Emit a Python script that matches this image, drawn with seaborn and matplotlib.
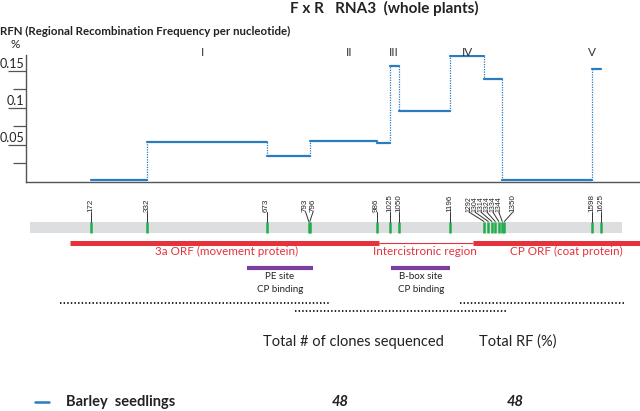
import numpy as np
import pandas as pd
import matplotlib
matplotlib.use("Agg")
import matplotlib.pyplot as plt
import seaborn as sns

# ---------------------------------------------
# Data
# ---------------------------------------------
breaks = [172, 332, 673, 796, 986, 1025, 1050, 1196, 1292, 1344, 1598, 1625]
rfn = [0.002, 0.054, 0.035, 0.055, 0.053, 0.157, 0.096, 0.170, 0.139, 0.002, 0.153]
regions = ["I", "II", "III", "IV", "V"]
region_nt = [490, 907, 1036, 1246, 1600]

sites = [172, 332, 673, 793, 796, 986, 1025, 1050, 1196,
         1292, 1304, 1314, 1324, 1334, 1344, 1350, 1598, 1625]
# where the rotated label sits (spread out in crowded places)
site_label_nt = [172, 332, 673, 784, 805, 986, 1025, 1050, 1196,
                 1249, 1266, 1283, 1300, 1317, 1334, 1374, 1598, 1625]

genome_len = 1685
orf_3a = (113, 993)
orf_cp = (1260, 1800)
pe_site = (617, 805)
bbox_site = (1027, 1195)
dotted_rows = [(85, 851, 303), (754, 1354, 311), (1223, 1690, 303)]

series_name = "Barley  seedlings"
n_clones = 48
total_rf = 48

blue = "#2b7bbf"
red = "#e5323b"
green = "#1fae4b"
purple = "#7a3e9d"

sns.set_style("ticks")
plt.rcParams["font.family"] = ["Lato", "DejaVu Sans"]

W, H = 640, 411
fig = plt.figure(figsize=(6.4, 4.11), dpi=100)


def fx(px):
    return px / W


def fy(py):
    return 1 - py / H


xlim = (-12, 1736)

# ---------------------------------------------
# Step chart
# ---------------------------------------------
ax = fig.add_axes([fx(26), fy(181.7), fx(614), (181.7 - 55) / H])
rows = []
for i, v in enumerate(rfn):
    rows.append({"seg": i, "nt": breaks[i], "rfn": v})
    rows.append({"seg": i, "nt": breaks[i + 1], "rfn": v})
df = pd.DataFrame(rows)
sns.lineplot(data=df, x="nt", y="rfn", units="seg", estimator=None,
             color=blue, lw=1.6, ax=ax, legend=False)
ax.vlines(breaks[1:-1], rfn[:-1], rfn[1:], colors=blue, lw=0.9,
          linestyles=(0, (1, 1)))

ax.set_xlim(*xlim)
ax.set_ylim(0, 0.1717)
ax.set_xlabel("")
ax.set_ylabel("")
ax.set_xticks([])
sns.despine(ax=ax)
for s in ["left", "bottom"]:
    ax.spines[s].set_color("#555555")
    ax.spines[s].set_linewidth(1.0)
ax.set_yticks([0.05, 0.10, 0.15])
ax.set_yticks([0.025, 0.075, 0.125], minor=True)
ax.tick_params(axis="y", which="major", length=13, width=0.9, color="#555555",
               labelleft=False)
ax.tick_params(axis="y", which="minor", length=9.5, width=0.9, color="#555555")
for v, lab in zip([0.05, 0.10, 0.15], ["0.05", "0.1", "0.15"]):
    ax.text(-0.003, v + 0.001, lab, transform=ax.get_yaxis_transform(),
            ha="right", va="bottom", fontsize=9, color="#222222")

for lab, nt in zip(regions, region_nt):
    ax.text(nt, 0.175, lab, ha="center", va="center", fontsize=8.5,
            color="#333333", clip_on=False)

fig.text(fx(384), fy(8), "F x R   RNA3  (whole plants)", ha="center",
         va="center", fontsize=11, fontweight="bold", color="#222222")
fig.text(fx(0), fy(31), "RFN (Regional Recombination Frequency per nucleotide)",
         ha="left", va="center", fontsize=8.3, fontweight="bold", color="#222222")
fig.text(fx(15), fy(45), "%", ha="center", va="center", fontsize=8.5,
         color="#222222")

# ---------------------------------------------
# Genome map
# ---------------------------------------------
gx = fig.add_axes([fx(26), 0, fx(614), (H - 185) / H])
gx.set_xlim(*xlim)
gx.set_ylim(H, 185)
gx.axis("off")

gx.fill_between([0, genome_len], 221.5, 232.5, color="#dcdedf", lw=0)
gx.vlines(sites, 222, 232.5, colors=green, lw=1.8)
for nt, lnt in zip(sites, site_label_nt):
    crowded = 1290 <= nt <= 1344
    gx.plot([lnt, nt], [212, 221.5], color="#333333", lw=0.7)
    gx.text(lnt, 211.5, str(nt), rotation=90, ha="center", va="bottom",
            fontsize=5.0 if crowded else 5.8, family="Liberation Sans",
            color="#222222")

gx.hlines(243, *orf_3a, colors=red, lw=3.6)
gx.hlines(242.5, orf_3a[1], orf_cp[0], colors=red, lw=0.8)
gx.hlines(243, *orf_cp, colors=red, lw=3.6)
gx.text(560, 251.5, "3a ORF (movement protein)", ha="center", va="center",
        fontsize=8.4, color=red)
gx.text(1124, 251.5, "Intercistronic region", ha="center", va="center",
        fontsize=8.4, color=red)
gx.text(1525, 251.5, "CP ORF (coat protein)", ha="center", va="center",
        fontsize=8.4, color=red)

gx.hlines(268, *pe_site, colors=purple, lw=3)
gx.hlines(268, *bbox_site, colors=purple, lw=3)
gx.text(711, 276.5, "PE site", ha="center", va="center", fontsize=7,
        color="#222222")
gx.text(711, 289, "CP binding", ha="center", va="center", fontsize=7,
        color="#222222")
gx.text(1112, 276.5, "B-box site", ha="center", va="center", fontsize=7,
        color="#222222")
gx.text(1112, 289, "CP binding", ha="center", va="center", fontsize=7,
        color="#222222")

for x0, x1, yy in dotted_rows:
    gx.hlines(yy, x0, x1, colors="#111111", lw=1.3, linestyles=(0, (0.8, 1.2)))

# ---------------------------------------------
# Table underneath
# ---------------------------------------------
fig.text(fx(353), fy(342), "Total # of clones sequenced", ha="center",
         va="center", fontsize=10.5, color="#222222")
fig.text(fx(518), fy(342), "Total RF (%)", ha="center", va="center",
         fontsize=10.5, color="#222222")
fig.lines.append(plt.Line2D([fx(35), fx(49)], [fy(402), fy(402)], color=blue,
                            lw=1.8, transform=fig.transFigure))
fig.text(fx(66), fy(402), series_name, ha="left", va="center", fontsize=10.5,
         fontweight="bold", color="#222222")
fig.text(fx(340), fy(402), str(n_clones), ha="center", va="center",
         fontsize=10.5, fontweight="bold", fontstyle="italic", color="#222222")
fig.text(fx(515), fy(402), str(total_rf), ha="center", va="center",
         fontsize=10.5, fontweight="bold", fontstyle="italic", color="#222222")

fig.savefig("out.png", dpi=100)
